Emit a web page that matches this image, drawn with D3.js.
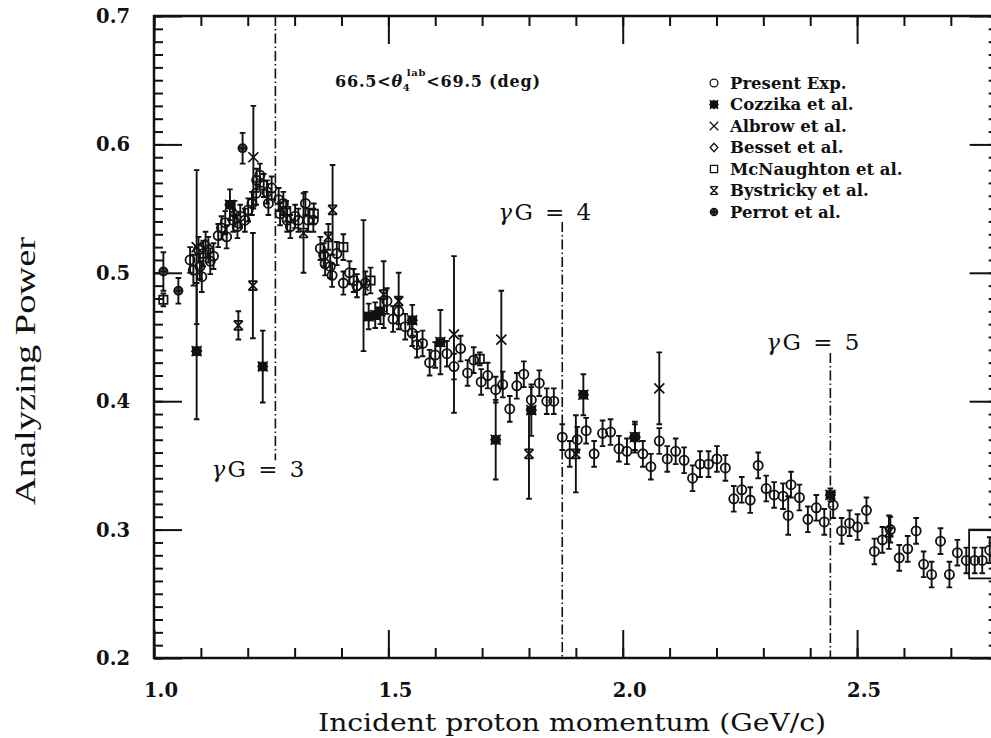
<!DOCTYPE html>
<html><head><meta charset="utf-8">
<script src="https://cdn.jsdelivr.net/npm/d3@7"></script>
<style>body{margin:0;background:#fff}</style>
</head><body>
<svg id="c" width="991" height="738"></svg>
<script>
// ---- data: [momentum GeV/c, analyzing power, error] ----
const presentExp = [
 [1.077,0.510,0.010],[1.084,0.502,0.012],[1.095,0.518,0.010],[1.098,0.505,0.010],[1.102,0.497,0.012],[1.105,0.515,0.010],
 [1.116,0.518,0.010],[1.120,0.509,0.010],[1.127,0.513,0.010],[1.137,0.529,0.009],[1.144,0.535,0.009],[1.152,0.539,0.009],
 [1.155,0.528,0.009],[1.169,0.541,0.009],[1.178,0.536,0.009],[1.184,0.544,0.009],[1.194,0.541,0.009],[1.201,0.549,0.009],
 [1.209,0.554,0.009],[1.218,0.562,0.009],[1.219,0.572,0.009],[1.226,0.576,0.009],[1.234,0.568,0.009],[1.241,0.563,0.009],
 [1.244,0.554,0.009],[1.251,0.566,0.009],[1.266,0.557,0.009],[1.269,0.546,0.009],[1.276,0.554,0.009],[1.284,0.541,0.009],
 [1.291,0.536,0.009],[1.301,0.544,0.009],[1.308,0.541,0.009],[1.323,0.554,0.009],[1.329,0.541,0.009],[1.340,0.541,0.009],
 [1.355,0.519,0.009],[1.362,0.514,0.009],[1.365,0.507,0.009],[1.376,0.505,0.009],[1.380,0.498,0.009],[1.390,0.515,0.009],
 [1.404,0.492,0.009],[1.417,0.500,0.009],[1.426,0.494,0.009],[1.433,0.490,0.009],[1.451,0.492,0.009],[1.497,0.478,0.010],
 [1.510,0.464,0.010],[1.522,0.470,0.010],[1.536,0.458,0.010],[1.551,0.453,0.010],[1.561,0.444,0.010],[1.573,0.445,0.010],
 [1.588,0.430,0.010],[1.600,0.436,0.010],[1.625,0.437,0.010],[1.640,0.427,0.010],[1.654,0.441,0.010],[1.669,0.422,0.010],
 [1.682,0.432,0.010],[1.698,0.415,0.010],[1.712,0.420,0.010],[1.729,0.409,0.010],[1.744,0.413,0.010],[1.759,0.394,0.010],
 [1.774,0.412,0.010],[1.789,0.421,0.010],[1.805,0.401,0.010],[1.822,0.414,0.010],[1.838,0.400,0.010],[1.853,0.400,0.010],
 [1.871,0.372,0.010],[1.887,0.359,0.010],[1.903,0.370,0.010],[1.922,0.377,0.010],[1.939,0.359,0.010],[1.957,0.375,0.010],
 [1.974,0.376,0.010],[1.992,0.363,0.010],[2.009,0.361,0.010],[2.026,0.372,0.010],[2.043,0.359,0.010],[2.060,0.349,0.010],
 [2.078,0.369,0.010],[2.095,0.355,0.010],[2.113,0.361,0.010],[2.131,0.354,0.010],[2.149,0.340,0.010],[2.165,0.351,0.010],
 [2.183,0.351,0.010],[2.201,0.355,0.010],[2.219,0.348,0.010],[2.237,0.324,0.010],[2.254,0.331,0.010],[2.272,0.323,0.010],
 [2.289,0.350,0.010],[2.306,0.332,0.010],[2.323,0.327,0.010],[2.342,0.326,0.010],[2.353,0.311,0.015],[2.359,0.335,0.010],
 [2.377,0.325,0.010],[2.395,0.308,0.010],[2.413,0.317,0.010],[2.430,0.306,0.010],[2.449,0.319,0.010],[2.467,0.299,0.010],
 [2.484,0.305,0.010],[2.501,0.302,0.010],[2.520,0.315,0.010],[2.537,0.283,0.010],[2.554,0.292,0.010],[2.571,0.300,0.010],
 [2.590,0.278,0.010],[2.608,0.285,0.010],[2.626,0.299,0.010],[2.642,0.273,0.010],[2.659,0.265,0.010],[2.678,0.291,0.010],
 [2.697,0.265,0.010],[2.714,0.282,0.010],[2.733,0.276,0.010],[2.751,0.276,0.010],[2.767,0.276,0.010],[2.783,0.284,0.010]
];
const cozzika = [
 [1.091,0.439,0.053],[1.162,0.553,0.012],[1.232,0.427,0.028],[1.458,0.466,0.010],[1.472,0.467,0.010],[1.483,0.470,0.010],
 [1.551,0.463,0.012],[1.611,0.446,0.025],[1.729,0.370,0.031],[1.805,0.393,0.020],[1.916,0.405,0.016],[2.026,0.372,0.012],
 [2.443,0.327,0.005]
];
const albrow = [
 [1.091,0.520,0.060],[1.212,0.590,0.040],[1.447,0.490,0.051],[1.640,0.452,0.061],[1.741,0.448,0.038],[2.078,0.410,0.028]
];
const besset = [
 [1.110,0.522,0.010],[1.172,0.546,0.010]
];
const mcNaughton = [
 [1.020,0.479,0.005],[1.282,0.548,0.008],[1.341,0.546,0.008],[1.404,0.520,0.010],[1.462,0.494,0.010],[1.695,0.433,0.005]
];
// wide McNaughton bin at the right edge: [pLow, pHigh, Atop, Abottom]
const mcNaughtonBox = [[2.739, 2.86, 0.300, 0.262]];
const bystricky = [
 [1.180,0.459,0.011],[1.211,0.490,0.041],[1.319,0.531,0.031],[1.372,0.528,0.010],[1.381,0.549,0.035],[1.490,0.483,0.026],
 [1.522,0.478,0.022],[1.800,0.359,0.035],[1.900,0.359,0.030],[2.568,0.298,0.013]
];
const perrot = [
 [1.020,0.501,0.015],[1.052,0.486,0.010],[1.189,0.597,0.012]
];
const xTickValues = [1.0, 1.5, 2.0, 2.5];
const xTickLabels = ["1.0", "1.5", "2.0", "2.5"];
const yTickValues = [0.2, 0.3, 0.4, 0.5, 0.6, 0.7];
const yTickLabels = ["0.2", "0.3", "0.4", "0.5", "0.6", "0.7"];
const gammaG = [3, 4, 5];
const gammaGMomentum = [1.259, 1.871, 2.443];
const legendNames = ["Present Exp.", "Cozzika et al.", "Albrow et al.", "Besset et al.", "McNaughton et al.", "Bystricky et al.", "Perrot et al."];

// ---- drawing ----
const svg = d3.select("#c");
const x = d3.scaleLinear().domain([1.0, 2.8]).range([154, 997.7]);
const y = d3.scaleLinear().domain([0.2, 0.7]).range([658, 16]);
const L = x.range()[0], R = x.range()[1], T = y.range()[1], B = y.range()[0];

svg.append("defs").append("clipPath").attr("id","clip")
  .append("rect").attr("x",L).attr("y",T).attr("width",R-L).attr("height",B-T);

const minorX = d3.range(10, 29).map(i => i/10);
const minorY = d3.range(20, 71).map(i => i/100);
const majorY = d3.range(2, 8).map(i => i/10);

function ticks(gen, pos, vals, size) {
  const g = svg.append("g").attr("transform", pos)
    .call(gen.tickValues(vals).tickSize(size).tickFormat(""));
  g.select(".domain").remove();
  g.selectAll("line").attr("stroke","#111").attr("stroke-width",2);
}
ticks(d3.axisTop(x), `translate(0,${B})`, minorX, 10);
ticks(d3.axisTop(x), `translate(0,${B})`, xTickValues, 28);
ticks(d3.axisBottom(x), `translate(0,${T})`, minorX, 10);
ticks(d3.axisBottom(x), `translate(0,${T})`, xTickValues, 28);
ticks(d3.axisRight(y), `translate(${L},0)`, minorY, 9);
ticks(d3.axisRight(y), `translate(${L},0)`, majorY, 28);
ticks(d3.axisLeft(y), `translate(${R},0)`, minorY, 9);
ticks(d3.axisLeft(y), `translate(${R},0)`, majorY, 28);

svg.append("rect").attr("x",L).attr("y",T).attr("width",R-L).attr("height",B-T)
  .attr("fill","none").attr("stroke","#111").attr("stroke-width",2.5);

// tick labels
const tickFont = "'DejaVu Serif', serif";
svg.append("g").selectAll("text").data(xTickValues).join("text")
  .attr("x", (d) => x(d) + 7).attr("y", 697).attr("text-anchor","middle")
  .attr("font-family", tickFont).attr("font-weight","bold").attr("font-size",19.5).attr("fill","#111")
  .text((d,i) => xTickLabels[i]);
svg.append("g").selectAll("text").data(yTickValues).join("text")
  .attr("x", 130).attr("y", d => y(d) + 7).attr("text-anchor","end")
  .attr("font-family", tickFont).attr("font-weight","bold").attr("font-size",19.5).attr("fill","#111")
  .text((d,i) => yTickLabels[i]);

// axis titles
svg.append("text").attr("x", 318).attr("y", 731)
  .attr("font-family","'DejaVu Serif', serif").attr("font-size",24).attr("fill","#111")
  .attr("textLength", 508).attr("lengthAdjust","spacingAndGlyphs")
  .text("Incident proton momentum (GeV/c)");
svg.append("text").attr("transform","translate(35,505) rotate(-90)")
  .attr("font-family","'Liberation Serif', serif").attr("font-size",29).attr("fill","#111")
  .attr("textLength", 268).attr("lengthAdjust","spacingAndGlyphs")
  .text("Analyzing Power");

// gammaG lines
const dash = "10,3,1.5,3";
const lineSpan = [[0.7, 0.354], [0.5395, 0.2], [0.4375, 0.2]];
const labelY = [477, 220, 350];
gammaGMomentum.forEach((p, i) => {
  svg.append("line").attr("x1", x(p)).attr("x2", x(p))
    .attr("y1", y(lineSpan[i][0])).attr("y2", y(lineSpan[i][1]))
    .attr("stroke","#111").attr("stroke-width",1.6).attr("stroke-dasharray", dash);
  const t = svg.append("text").attr("x", x(p) - 64).attr("y", labelY[i])
    .attr("font-family","'DejaVu Serif', serif").attr("font-size",23).attr("fill","#111")
    .attr("textLength", 93).attr("lengthAdjust","spacing");
  t.append("tspan").attr("font-style","italic").text("γ");
  t.append("tspan").text("G = " + gammaG[i]);
});

// angle annotation
const ann = svg.append("text").attr("x", 335).attr("y", 87)
  .attr("font-family","'DejaVu Serif', serif").attr("font-weight","bold").attr("font-size",16).attr("fill","#111");
ann.append("tspan").text("66.5<");
ann.append("tspan").attr("font-style","italic").text("θ");
ann.append("tspan").attr("font-size",10).attr("dy",4).text("4");
ann.append("tspan").attr("font-size",10).attr("dx",-4).attr("dy",-15).text("lab");
ann.append("tspan").attr("dy",11).text("<69.5 (deg)");
ann.attr("textLength", 205).attr("lengthAdjust","spacing");

// symbol path helpers (relative to marker centre)
const sym = {
  present: () => d3.symbol(d3.symbolCircle, 66)(),
  cozzika: () => "M-4,-4h8v8h-8z M-5.5,0h11 M0,-5.5v11 M-5,-5L5,5 M-5,5L5,-5",
  albrow: () => "M-5,-5L5,5 M-5,5L5,-5",
  besset: () => "M0,-5L4.5,0L0,5L-4.5,0Z",
  mcnaughton: () => "M-4.2,-4.2h8.4v8.4h-8.4z",
  bystricky: () => "M-4.5,-4.5L4.5,4.5 M-4.5,4.5L4.5,-4.5 M-4.5,-4.5h9 M-4.5,4.5h9",
  perrot: () => d3.symbol(d3.symbolCircle, 55)() + " M-5,0h10 M0,-5v10"
};
const styles = {
  present: {fill:"none", sw:1.8},
  cozzika: {fill:"#111", sw:1.6},
  albrow: {fill:"none", sw:1.7},
  besset: {fill:"none", sw:1.6},
  mcnaughton: {fill:"none", sw:1.7},
  bystricky: {fill:"none", sw:1.7},
  perrot: {fill:"#444", sw:1.6}
};
const seriesList = [
  ["albrow", albrow], ["bystricky", bystricky], ["cozzika", cozzika], ["perrot", perrot],
  ["besset", besset], ["mcnaughton", mcNaughton], ["present", presentExp]
];
const plot = svg.append("g").attr("clip-path","url(#clip)");

plot.selectAll("rect.box").data(mcNaughtonBox).join("rect").attr("class","box")
  .attr("x", d => x(d[0])).attr("width", d => x(d[1]) - x(d[0]))
  .attr("y", d => y(d[2])).attr("height", d => y(d[3]) - y(d[2]))
  .attr("fill","none").attr("stroke","#111").attr("stroke-width",1.8);

seriesList.forEach(([key, data]) => {
  const g = plot.append("g");
  g.selectAll("path.err").data(data).join("path").attr("class","err")
    .attr("d", d => {
      const px = x(d[0]), y1 = y(d[1] + d[2]), y2 = y(d[1] - d[2]);
      return `M${px},${y1}V${y2}M${px-2.8},${y1}h5.6M${px-2.8},${y2}h5.6`;
    })
    .attr("stroke","#111").attr("stroke-width",1.9).attr("fill","none");
  g.selectAll("path.m").data(data).join("path").attr("class","m")
    .attr("transform", d => `translate(${x(d[0])},${y(d[1])})`)
    .attr("d", sym[key]())
    .attr("fill", styles[key].fill).attr("stroke","#111").attr("stroke-width", styles[key].sw);
});

// legend
const legendKeys = ["present","cozzika","albrow","besset","mcnaughton","bystricky","perrot"];
const lg = svg.append("g");
legendKeys.forEach((k, i) => {
  const cy = 83 + i * 21.5;
  lg.append("path").attr("transform", `translate(714,${cy}) scale(0.85)`).attr("d", sym[k]())
    .attr("fill", styles[k].fill).attr("stroke","#111").attr("stroke-width",1.5);
  lg.append("text").attr("x", 730).attr("y", cy + 5.5)
    .attr("font-family","'DejaVu Serif', serif").attr("font-weight","bold").attr("font-size",16.5).attr("fill","#111")
    .text(legendNames[i]);
});
</script>
</body></html>
